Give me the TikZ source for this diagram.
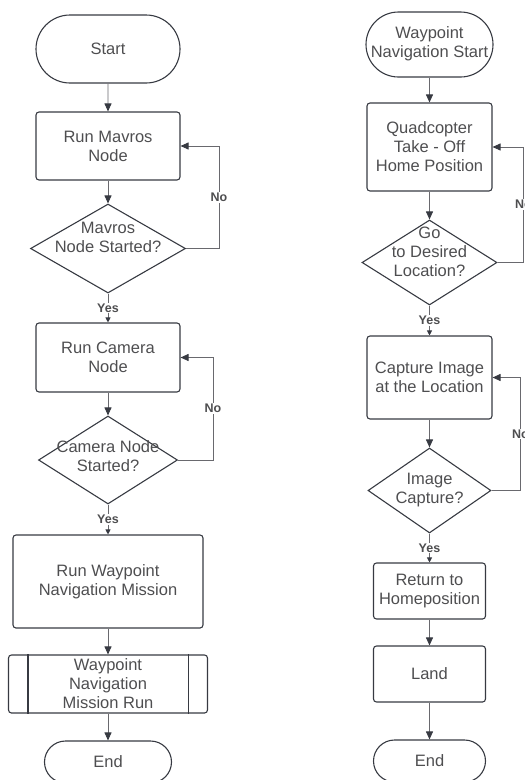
\documentclass[tikz,border=0pt]{standalone}
\usepackage{fontspec}
\setmainfont{Liberation Sans}
\usepackage{tikz}
\usetikzlibrary{calc,positioning,arrows.meta,shapes.geometric,shapes.misc}
\usepackage{xcolor}
\definecolor{mydark}{RGB}{55,58,66}
\definecolor{mytext}{RGB}{78,78,80}
\definecolor{myline}{RGB}{105,105,110}
\newcommand{\dlines}[2][0pt]{\makebox[0pt]{\raisebox{\dimexpr#1-4.1pt\relax}[0pt][0pt]{\begin{tabular}{@{}c@{}}#2\end{tabular}}}}

\begin{document}
\begin{tikzpicture}[x=1pt,y=-1pt,
  font=\fontsize{16.5}{19}\selectfont, text=mytext,
  box/.style 2 args={draw=mydark, line width=1.1pt, rectangle, rounded corners=3pt, minimum width=#1, minimum height=#2, inner sep=2pt, align=center},
  term/.style 2 args={draw=mydark, line width=1.1pt, rounded rectangle, minimum width=#1, minimum height=#2, inner sep=0pt, align=center},
  decision/.style 2 args={draw=mydark, line width=1.1pt, diamond, minimum width=#1, minimum height=#2, inner sep=0pt},
  conn/.style={draw=myline, line width=0.9pt, -{Triangle[length=8pt,width=7pt,color=mydark]}},
  yesconn/.style={conn, -{Triangle[length=5pt,width=5pt,color=mydark]}},
  lab/.style={fill=white, inner sep=1pt, font=\fontsize{12.5}{14}\selectfont\bfseries}]
  \useasboundingbox (0,0) rectangle (525,780);

  % bring-up
  \node[term={144}{68}] (start) at (108,49) {Start};
  \node[box={144}{68}] (mavros) at (108,146) {Run Mavros\\Node};
  \node[decision={155}{89}] (mavrosq) at (108,248.5) {\dlines[9pt]{Mavros\\Node Started?}};
  \node[box={144}{69}] (camera) at (108,357.5) {Run Camera\\Node};
  \node[decision={139}{88}] (cameraq) at (108,460) {\dlines[2pt]{Camera Node\\Started?}};
  \node[box={190}{93}] (mission) at (108,581.5) {Run Waypoint\\Navigation Mission};
  \node[box={199}{58}] (missionrun) at (108,684) {Waypoint\\Navigation\\Mission Run};
  \draw[line width=1.1pt, draw=mydark] ($(missionrun.north west)+(20,0)$) -- ($(missionrun.south west)+(20,0)$);
  \draw[line width=1.1pt, draw=mydark] ($(missionrun.north east)+(-20,0)$) -- ($(missionrun.south east)+(-20,0)$);
  \node[term={127}{42}] (endl) at (108,762) {End};

  \draw[conn] (start) -- (mavros);
  \draw[conn] (mavros) -- (mavrosq);
  \draw[yesconn] (mavrosq) -- (camera) node[midway,lab]{Yes};
  \draw[conn] (mavrosq.east) -- ++(33,0) |- (mavros.east) node[pos=0.25,lab]{No};
  \draw[conn] (camera) -- (cameraq);
  \draw[yesconn] (cameraq) -- (mission) node[midway,lab]{Yes};
  \draw[conn] (cameraq.east) -- ++(35,0) |- (camera.east) node[pos=0.25,lab]{No};
  \draw[conn] (mission) -- (missionrun);
  \draw[conn] (missionrun) -- (endl);

  % waypoint mission
  \node[term={127}{65}] (wpstart) at (429.5,44.5) {\dlines{Waypoint\\Navigation Start}};
  \node[box={125}{88}] (takeoff) at (429.5,147) {Quadcopter\\Take - Off\\Home Position};
  \node[decision={135}{85}] (goq) at (429.5,262.5) {\dlines[8.5pt]{Go\\to Desired\\Location?}};
  \node[box={125}{83}] (capture) at (429.5,377.5) {Capture Image\\at the Location};
  \node[decision={123}{85}] (captureq) at (429.5,490.5) {\dlines{Image\\Capture?}};
  \node[box={112}{56}] (ret) at (429.5,591) {Return to\\Homeposition};
  \node[box={112}{56}] (land) at (429.5,674) {Land};
  \node[term={112}{42}] (endr) at (429.5,761) {End};

  \draw[conn] (wpstart) -- (takeoff);
  \draw[conn] (takeoff) -- (goq);
  \draw[yesconn] (goq) -- (capture) node[midway,lab]{Yes};
  \draw[conn] (goq.east) -- ++(26,0) |- (takeoff.east) node[pos=0.25,lab]{No};
  \draw[conn] (capture) -- (captureq);
  \draw[yesconn] (captureq) -- (ret) node[midway,lab]{Yes};
  \draw[conn] (captureq.east) -- ++(29,0) |- (capture.east) node[pos=0.25,lab]{No};
  \draw[conn] (ret) -- (land);
  \draw[conn] (land) -- (endr);
\end{tikzpicture}
\end{document}
